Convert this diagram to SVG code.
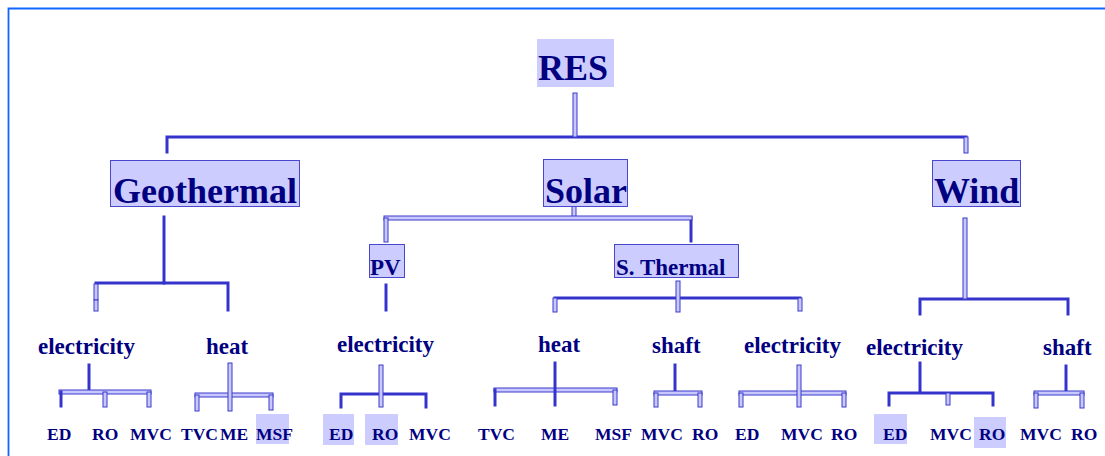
<svg xmlns="http://www.w3.org/2000/svg" width="1105" height="456" viewBox="0 0 1105 456">
<style>
.s{stroke:#3434cc;stroke-width:3;fill:none;stroke-linecap:square}
.d{fill:#c8c8ff;stroke:#3a3acc;stroke-width:1}
.box{fill:#ccccff;stroke:#4848cc;stroke-width:1}
.hl{fill:#ccccff}
text{font-family:"Liberation Serif","Times New Roman",serif;font-weight:bold;fill:#000080}
.t1{font-size:36px}
.t2{font-size:23px}
.t3{font-size:23px}
.t4{font-size:17.5px}
</style>
<rect width="1105" height="456" fill="#ffffff"/>
<path d="M8.5,456 V8.5 H1105" fill="none" stroke="#1166ff" stroke-width="1.8"/>

<g id="connectors">
  <!-- RES level -->
  <path class="s" d="M167,152 V137 H966"/>
  <rect class="d" x="573" y="93" width="4" height="44"/>
  <rect class="d" x="964" y="137" width="4" height="16"/>
  <!-- Geothermal -->
  <path class="s" d="M164,217 V283"/>
  <path class="s" d="M96,283 H228 V310"/>
  <rect class="d" x="94" y="284" width="4" height="16"/>
  <rect class="d" x="94" y="300" width="4" height="11"/>
  <!-- Solar -->
  <rect class="d" x="572" y="206" width="4" height="12"/>
  <path class="s" d="M691,218 V241"/>
  <rect class="d" x="384" y="216" width="308" height="4"/>
  <rect class="d" x="384" y="218" width="4" height="24"/>
  <!-- PV -->
  <path class="s" d="M386,285 V310"/>
  <!-- S. Thermal -->
  <path class="s" d="M555,298 H800"/>
  <rect class="d" x="676" y="281" width="4" height="31"/>
  <rect class="d" x="553" y="298" width="4" height="14"/>
  <rect class="d" x="798" y="298" width="4" height="13"/>
  <!-- Wind -->
  <path class="s" d="M920,314 V299 H1068 V314"/>
  <rect class="d" x="963" y="218" width="4" height="81"/>
  <!-- Geo electricity -->
  <path class="s" d="M89,365 V391"/>
  <rect class="d" x="59" y="390" width="92" height="4"/>
  <path class="s" d="M61,392 V406"/>
  <rect class="d" x="103" y="392" width="4" height="15"/>
  <rect class="d" x="147" y="392" width="4" height="15"/>
  <!-- Geo heat -->
  <rect class="d" x="195" y="393" width="78" height="4"/>
  <rect class="d" x="195" y="395" width="4" height="16"/>
  <rect class="d" x="269" y="395" width="4" height="15"/>
  <rect class="d" x="228" y="363" width="4" height="48"/>
  <!-- PV electricity -->
  <path class="s" d="M341,407 V394 H426 V407"/>
  <rect class="d" x="379" y="365" width="4" height="42"/>
  <!-- Solar heat -->
  <rect class="d" x="494" y="388" width="123" height="4"/>
  <path class="s" d="M495,390 V405"/>
  <rect class="d" x="613" y="390" width="4" height="15"/>
  <path class="s" d="M555,363 V405"/>
  <!-- ST shaft -->
  <path class="s" d="M675,365 V392"/>
  <rect class="d" x="654" y="391" width="48" height="4"/>
  <rect class="d" x="654" y="393" width="4" height="14"/>
  <rect class="d" x="698" y="393" width="4" height="14"/>
  <!-- ST electricity -->
  <rect class="d" x="739" y="391" width="107" height="4"/>
  <rect class="d" x="739" y="393" width="4" height="14"/>
  <rect class="d" x="842" y="393" width="4" height="14"/>
  <rect class="d" x="797" y="365" width="4" height="42"/>
  <!-- Wind electricity -->
  <path class="s" d="M920,363 V392"/>
  <path class="s" d="M889,405 V393 H993 V405"/>
  <rect class="d" x="946" y="393" width="4" height="12"/>
  <!-- Wind shaft -->
  <path class="s" d="M1066,366 V392"/>
  <rect class="d" x="1034" y="391" width="50" height="4"/>
  <rect class="d" x="1034" y="393" width="4" height="15"/>
  <rect class="d" x="1080" y="393" width="4" height="15"/>
</g>

<g id="res">
  <rect class="hl" x="537" y="39" width="77" height="48"/>
  <text class="t1" x="538" y="80">RES</text>
</g>
<g id="geothermal">
  <rect class="box" x="110.5" y="160.5" width="189" height="46"/>
  <text class="t1" x="113" y="203">Geothermal</text>
</g>
<g id="solar">
  <rect class="box" x="543.5" y="159.5" width="84" height="47"/>
  <text class="t1" x="545" y="203">Solar</text>
</g>
<g id="wind">
  <rect class="box" x="932.5" y="160.5" width="88" height="46"/>
  <text class="t1" x="934" y="203">Wind</text>
</g>
<g id="pv">
  <rect class="box" x="369.5" y="244.5" width="35" height="33"/>
  <text class="t2" x="370" y="275">PV</text>
</g>
<g id="sthermal">
  <rect class="box" x="614.5" y="244.5" width="124" height="33"/>
  <text class="t2" x="616" y="275">S. Thermal</text>
</g>

<g id="geo-electricity"><text class="t3" x="38" y="354">electricity</text></g>
<g id="geo-heat"><text class="t3" x="206" y="354">heat</text></g>
<g id="pv-electricity"><text class="t3" x="337" y="352">electricity</text></g>
<g id="st-heat"><text class="t3" x="538" y="352">heat</text></g>
<g id="st-shaft"><text class="t3" x="652" y="353">shaft</text></g>
<g id="st-electricity"><text class="t3" x="744" y="353">electricity</text></g>
<g id="wind-electricity"><text class="t3" x="866" y="355">electricity</text></g>
<g id="wind-shaft"><text class="t3" x="1043" y="355">shaft</text></g>

<g id="geo-el-ed"><text class="t4" x="47" y="440">ED</text></g>
<g id="geo-el-ro"><text class="t4" x="92" y="440">RO</text></g>
<g id="geo-el-mvc"><text class="t4" x="130" y="440">MVC</text></g>
<g id="geo-h-tvc"><text class="t4" x="181" y="440">TVC</text></g>
<g id="geo-h-me"><text class="t4" x="220" y="440">ME</text></g>
<g id="geo-h-msf"><rect class="hl" x="256" y="414" width="33" height="30"/><text class="t4" x="256" y="440">MSF</text></g>

<g id="pv-ed"><rect class="hl" x="323" y="414" width="31" height="31"/><text class="t4" x="329" y="440">ED</text></g>
<g id="pv-ro"><rect class="hl" x="365" y="414" width="33" height="31"/><text class="t4" x="372" y="440">RO</text></g>
<g id="pv-mvc"><text class="t4" x="409" y="440">MVC</text></g>

<g id="st-h-tvc"><text class="t4" x="478" y="440">TVC</text></g>
<g id="st-h-me"><text class="t4" x="541" y="440">ME</text></g>
<g id="st-h-msf"><text class="t4" x="595" y="440">MSF</text></g>
<g id="st-s-mvc"><text class="t4" x="641" y="440">MVC</text></g>
<g id="st-s-ro"><text class="t4" x="692" y="440">RO</text></g>
<g id="st-e-ed"><text class="t4" x="735" y="440">ED</text></g>
<g id="st-e-mvc"><text class="t4" x="781" y="440">MVC</text></g>
<g id="st-e-ro"><text class="t4" x="831" y="440">RO</text></g>

<g id="w-e-ed"><rect class="hl" x="874" y="414" width="33" height="30"/><text class="t4" x="883" y="440">ED</text></g>
<g id="w-e-mvc"><text class="t4" x="930" y="440">MVC</text></g>
<g id="w-e-ro"><rect class="hl" x="974" y="417" width="32" height="31"/><text class="t4" x="979" y="440">RO</text></g>
<g id="w-s-mvc"><text class="t4" x="1020" y="440">MVC</text></g>
<g id="w-s-ro"><text class="t4" x="1071" y="440">RO</text></g>
</svg>
